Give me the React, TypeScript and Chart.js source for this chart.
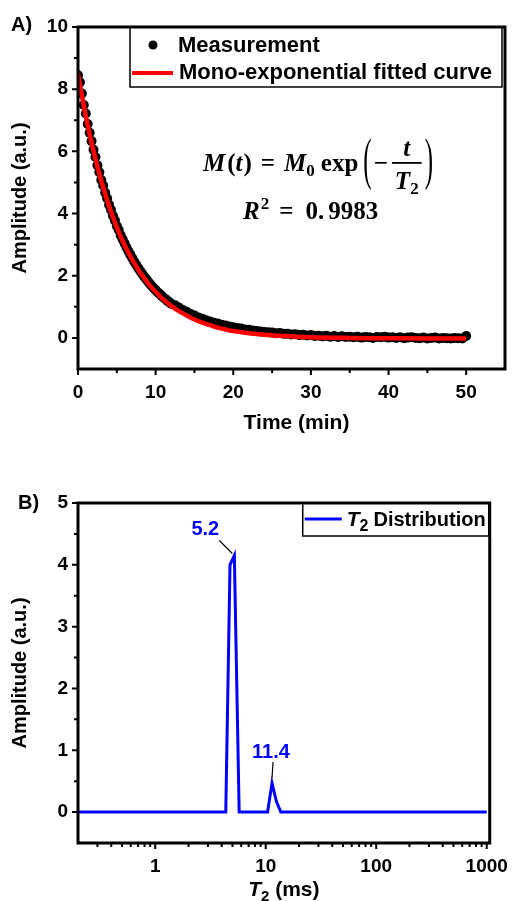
import React, { useEffect, useRef } from 'react';
import { Chart, registerables } from 'chart.js';
Chart.register(...registerables);

const SANS = '"Liberation Sans", Arial, sans-serif';
const SERIF = '"Liberation Serif", "Times New Roman", serif';

// ---------- Panel A data ----------
const measTime = [
  0, 0.25, 0.5, 0.75, 1, 1.25, 1.5, 1.75, 2, 2.25, 2.5, 2.75, 3, 3.25, 3.5, 3.75, 4, 4.25, 4.5, 4.75,
  5, 5.25, 5.5, 5.75, 6, 6.25, 6.5, 6.75, 7, 7.25, 7.5, 7.75, 8, 8.25, 8.5, 8.75, 9, 9.25, 9.5, 9.75,
  10, 10.25, 10.5, 10.75, 11, 11.25, 11.5, 11.75, 12,
  12.5, 13, 13.5, 14, 14.5, 15, 15.5, 16, 16.5, 17, 17.5, 18, 18.5, 19, 19.5,
  20, 20.5, 21, 21.5, 22, 22.5, 23, 23.5, 24, 24.5, 25, 25.5, 26, 26.5, 27, 27.5, 28, 28.5, 29, 29.5,
  30, 30.5, 31, 31.5, 32, 32.5, 33, 33.5, 34, 34.5, 35, 35.5, 36, 36.5, 37, 37.5, 38, 38.5, 39, 39.5,
  40, 40.5, 41, 41.5, 42, 42.5, 43, 43.5, 44, 44.5, 45, 45.5, 46, 46.5, 47, 47.5, 48, 48.5, 49, 49.5,
  50,
];
const measAmp = [
  8.45, 8.22, 7.86, 7.49, 7.22, 6.88, 6.6, 6.33, 6.05, 5.82, 5.55, 5.33, 5.08, 4.9, 4.67, 4.49, 4.28, 4.12, 3.93, 3.78,
  3.6, 3.47, 3.3, 3.17, 3.04, 2.91, 2.79, 2.67, 2.56, 2.45, 2.35, 2.25, 2.16, 2.07, 1.98, 1.9, 1.82, 1.74, 1.67, 1.6,
  1.54, 1.47, 1.42, 1.36, 1.3, 1.25, 1.2, 1.15, 1.1,
  1.05, 0.98, 0.9, 0.84, 0.77, 0.72, 0.66, 0.62, 0.57, 0.53, 0.49, 0.46, 0.42, 0.4, 0.37,
  0.34, 0.32, 0.3, 0.27, 0.26, 0.24, 0.22, 0.21, 0.19, 0.18, 0.17, 0.15, 0.16, 0.13, 0.13, 0.11, 0.12, 0.09, 0.1, 0.08,
  0.09, 0.06, 0.07, 0.05, 0.07, 0.04, 0.06, 0.03, 0.05, 0.03, 0.04, 0.02, 0.04, 0.01, 0.03, 0.02, 0.0, 0.03, 0.02, 0.04,
  0.01, 0.02, 0.0, 0.02, -0.01, 0.01, 0.02, 0.0, -0.01, 0.01, -0.02, 0.0, 0.01, -0.02, 0.0, -0.01, -0.02, 0.0, -0.01, -0.02,
  0.06,
];
const fitTime = [
  0, 0.5, 1, 1.5, 2, 2.5, 3, 3.5, 4, 4.5, 5, 5.5, 6, 6.5, 7, 7.5, 8, 8.5, 9, 9.5,
  10, 11, 12, 13, 14, 15, 16, 17, 18, 19, 20, 22, 24, 26, 28, 30, 35, 40, 45, 50,
];
const fitAmp = [
  8.5, 7.79, 7.15, 6.55, 6.01, 5.51, 5.05, 4.63, 4.24, 3.89, 3.56, 3.26, 2.99, 2.74, 2.51, 2.3, 2.1, 1.93, 1.76, 1.61,
  1.48, 1.23, 1.03, 0.86, 0.72, 0.59, 0.49, 0.41, 0.33, 0.27, 0.22, 0.15, 0.1, 0.07, 0.04, 0.02, 0.0, -0.01, -0.02, -0.02,
];
const xTicksA = [0, 10, 20, 30, 40, 50];
const xMinorA = [5, 15, 25, 35, 45];
const yTicksA = [0, 2, 4, 6, 8, 10];
const yMinorA = [1, 3, 5, 7, 9];
const legendA = ['Measurement', 'Mono-exponential fitted curve'];
const r2Int = '0.';
const r2Frac = '9983';

// ---------- Panel B data ----------
const t2Time = [0.2, 4.35, 4.75, 5.2, 5.75, 10.4, 11.4, 12.5, 13.7, 1000];
const t2Amp = [0, 0, 4.0, 4.15, 0, 0, 0.47, 0.17, 0, 0];
const peakX = [5.2, 11.4];
const peakY = [4.15, 0.47];
const peakText = ['5.2', '11.4'];
const xTicksB = [1, 10, 100, 1000];
const xMinorB = [
  0.3, 0.4, 0.5, 0.6, 0.7, 0.8, 0.9,
  2, 3, 4, 5, 6, 7, 8, 9,
  20, 30, 40, 50, 60, 70, 80, 90,
  200, 300, 400, 500, 600, 700, 800, 900,
];
const yTicksB = [0, 1, 2, 3, 4, 5];
const yMinorB = [0.5, 1.5, 2.5, 3.5, 4.5];

type Seg = { t: string; f: string; dy?: number; gap?: number };

function drawSegs(ctx: CanvasRenderingContext2D, x: number, y: number, segs: Seg[]) {
  let cx = x;
  for (const s of segs) {
    cx += s.gap || 0;
    if (!s.t) continue;
    ctx.font = s.f;
    ctx.fillText(s.t, cx, y + (s.dy || 0));
    cx += ctx.measureText(s.t).width;
  }
  return cx;
}

function drawAxesFrame(chart: any, xMaj: number[], xMin: number[], yMaj: number[], yMin: number[]) {
  const { ctx, chartArea: a } = chart;
  const xs = chart.scales.x;
  const ys = chart.scales.y;
  ctx.save();
  ctx.strokeStyle = '#000';
  ctx.lineWidth = 2;
  ctx.beginPath();
  for (const v of xMaj) {
    const p = xs.getPixelForValue(v);
    ctx.moveTo(p, a.bottom);
    ctx.lineTo(p, a.bottom + 6);
  }
  for (const v of xMin) {
    const p = xs.getPixelForValue(v);
    ctx.moveTo(p, a.bottom);
    ctx.lineTo(p, a.bottom + 4);
  }
  for (const v of yMaj) {
    const p = ys.getPixelForValue(v);
    ctx.moveTo(a.left, p);
    ctx.lineTo(a.left - 6, p);
  }
  for (const v of yMin) {
    const p = ys.getPixelForValue(v);
    ctx.moveTo(a.left, p);
    ctx.lineTo(a.left - 4, p);
  }
  ctx.stroke();
  ctx.lineWidth = 3;
  ctx.strokeRect(a.left, a.top, a.right - a.left, a.bottom - a.top);
  ctx.restore();
}

function drawYTitle(ctx: CanvasRenderingContext2D, text: string, x: number, y: number) {
  ctx.save();
  ctx.translate(x, y);
  ctx.rotate(-Math.PI / 2);
  ctx.font = `bold 20px ${SANS}`;
  ctx.fillStyle = '#000';
  ctx.textAlign = 'center';
  ctx.textBaseline = 'middle';
  ctx.fillText(text, 0, 0);
  ctx.restore();
}

const decorA = {
  id: 'decorA',
  afterDraw(chart: any) {
    const { ctx, chartArea: a } = chart;
    drawAxesFrame(chart, xTicksA, xMinorA, yTicksA, yMinorA);
    ctx.save();
    ctx.fillStyle = '#000';
    ctx.strokeStyle = '#000';
    // legend box
    const lx = a.left + 52;
    const lr = a.right - 3;
    ctx.lineWidth = 1.5;
    ctx.strokeRect(lx, a.top, lr - lx, 60);
    ctx.beginPath();
    ctx.arc(lx + 23, a.top + 18, 4.5, 0, Math.PI * 2);
    ctx.fill();
    ctx.strokeStyle = '#ff0000';
    ctx.lineWidth = 4;
    ctx.beginPath();
    ctx.moveTo(lx + 2, a.top + 46);
    ctx.lineTo(lx + 43, a.top + 46);
    ctx.stroke();
    ctx.font = `bold 22px ${SANS}`;
    ctx.textBaseline = 'middle';
    ctx.textAlign = 'left';
    ctx.fillText(legendA[0], lx + 48, a.top + 19);
    ctx.fillText(legendA[1], lx + 49, a.top + 46);

    // equation
    ctx.textBaseline = 'alphabetic';
    const fs = 25;
    const bi = `italic bold ${fs}px ${SERIF}`;
    const b = `bold ${fs}px ${SERIF}`;
    const sm = `bold ${Math.round(fs * 0.68)}px ${SERIF}`;
    const base = 171;
    let x = drawSegs(ctx, 203, base, [
      { t: 'M', f: bi },
      { t: '(', f: b, gap: 2 },
      { t: 't', f: bi },
      { t: ')', f: b, gap: 1 },
      { t: '=', f: b, gap: 9 },
      { t: 'M', f: bi, gap: 9 },
      { t: '0', f: sm, dy: 5 },
      { t: 'exp', f: b, gap: 6 },
    ]);
    const paren = (ch: string, px: number) => {
      ctx.save();
      ctx.font = `${fs}px ${SERIF}`;
      ctx.translate(px, 163);
      ctx.scale(1, 2.25);
      ctx.textBaseline = 'middle';
      ctx.fillText(ch, 0, 0);
      ctx.restore();
      ctx.font = `${fs}px ${SERIF}`;
      return ctx.measureText(ch).width;
    };
    x += 5;
    x += paren('(', x) + 2;
    x = drawSegs(ctx, x, base, [{ t: '\u2212', f: b }]);
    x += 4;
    ctx.font = bi;
    const wT = ctx.measureText('T').width;
    ctx.font = sm;
    const w2 = ctx.measureText('2').width;
    const fw = wT + w2 + 6;
    ctx.fillRect(x, 162, fw, 1.8);
    ctx.font = bi;
    const wt = ctx.measureText('t').width;
    ctx.fillText('t', x + (fw - wt) / 2, 156);
    drawSegs(ctx, x + 3, 189, [{ t: 'T', f: bi }, { t: '2', f: sm, dy: 5 }]);
    x += fw + 3;
    paren(')', x);

    drawSegs(ctx, 243, 219, [
      { t: 'R', f: bi },
      { t: '2', f: sm, dy: -10, gap: 1 },
      { t: '=', f: b, gap: 10 },
      { t: r2Int, f: b, gap: 12 },
      { t: r2Frac, f: b, gap: 4 },
    ]);

    // axis titles
    ctx.font = `bold 21px ${SANS}`;
    ctx.textAlign = 'center';
    ctx.textBaseline = 'middle';
    ctx.fillText('Time (min)', (a.left + a.right) / 2 + 5, 423);
    ctx.restore();
    drawYTitle(ctx, 'Amplitude (a.u.)', 20, (a.top + a.bottom) / 2);
    ctx.save();
    ctx.font = `bold 20px ${SANS}`;
    ctx.fillStyle = '#000';
    ctx.textBaseline = 'middle';
    ctx.textAlign = 'left';
    ctx.fillText('A)', 11, 25);
    ctx.restore();
  },
};

const decorB = {
  id: 'decorB',
  afterDraw(chart: any) {
    const { ctx, chartArea: a } = chart;
    const xs = chart.scales.x;
    const ys = chart.scales.y;
    drawAxesFrame(chart, xTicksB, xMinorB, yTicksB, yMinorB);
    ctx.save();
    // legend
    const lx = a.right - 187;
    ctx.strokeStyle = '#000';
    ctx.lineWidth = 1.5;
    ctx.strokeRect(lx, a.top, a.right - 1 - lx, 33);
    ctx.strokeStyle = '#0000ff';
    ctx.lineWidth = 3;
    ctx.beginPath();
    ctx.moveTo(lx + 2, a.top + 16);
    ctx.lineTo(lx + 39, a.top + 16);
    ctx.stroke();
    ctx.fillStyle = '#000';
    ctx.textBaseline = 'alphabetic';
    drawSegs(ctx, lx + 44, a.top + 23, [
      { t: 'T', f: `italic bold 21px ${SANS}` },
      { t: '2', f: `bold 16px ${SANS}`, dy: 5 },
      { t: 'Distribution', f: `bold 20px ${SANS}`, gap: 5 },
    ]);

    // peak annotations
    const offs = [
      { tx: -29, ty: -26, x1: -15, y1: -15, x2: -2, y2: -2 },
      { tx: -1, ty: -31, x1: 1, y1: -21, x2: 0, y2: -5 },
    ];
    for (let i = 0; i < peakX.length; i++) {
      const px = xs.getPixelForValue(peakX[i]);
      const py = ys.getPixelForValue(peakY[i]);
      const o = offs[i];
      ctx.strokeStyle = '#000';
      ctx.lineWidth = 1.2;
      ctx.beginPath();
      ctx.moveTo(px + o.x1, py + o.y1);
      ctx.lineTo(px + o.x2, py + o.y2);
      ctx.stroke();
      ctx.fillStyle = '#0000ff';
      ctx.font = `bold 20px ${SANS}`;
      ctx.textAlign = 'center';
      ctx.textBaseline = 'middle';
      ctx.fillText(peakText[i], px + o.tx, py + o.ty);
    }

    // x title: T2 (ms)
    ctx.fillStyle = '#000';
    ctx.textAlign = 'left';
    ctx.textBaseline = 'alphabetic';
    ctx.font = `italic bold 21px ${SANS}`;
    const w1 = ctx.measureText('T').width;
    ctx.font = `bold 15px ${SANS}`;
    const w2 = ctx.measureText('2').width;
    ctx.font = `bold 21px ${SANS}`;
    const w3 = ctx.measureText(' (ms)').width;
    const total = w1 + w2 + w3;
    drawSegs(ctx, (a.left + a.right) / 2 - total / 2, 446, [
      { t: 'T', f: `italic bold 21px ${SANS}` },
      { t: '2', f: `bold 15px ${SANS}`, dy: 5 },
      { t: ' (ms)', f: `bold 21px ${SANS}` },
    ]);
    ctx.restore();
    drawYTitle(ctx, 'Amplitude (a.u.)', 20, (a.top + a.bottom) / 2);
    ctx.save();
    ctx.font = `bold 20px ${SANS}`;
    ctx.fillStyle = '#000';
    ctx.textBaseline = 'middle';
    ctx.textAlign = 'left';
    ctx.fillText('B)', 18, a.top);
    ctx.restore();
  },
};

const tickFont = { family: SANS, size: 19, weight: 'bold' as const };

export default function App() {
  const refA = useRef<HTMLCanvasElement>(null);
  const refB = useRef<HTMLCanvasElement>(null);

  useEffect(() => {
    const chartA = new Chart(refA.current!, {
      type: 'scatter',
      data: {
        datasets: [
          {
            label: legendA[0],
            data: measTime.map((t, i) => ({ x: t, y: measAmp[i] })),
            pointRadius: 5,
            pointBackgroundColor: '#000',
            pointBorderWidth: 0,
            showLine: false,
            order: 2,
          },
          {
            label: legendA[1],
            data: fitTime.map((t, i) => ({ x: t, y: fitAmp[i] })),
            showLine: true,
            borderColor: '#ff0000',
            borderWidth: 4.5,
            pointRadius: 0,
            cubicInterpolationMode: 'monotone',
            order: 1,
          } as any,
        ],
      },
      options: {
        animation: false,
        responsive: false,
        layout: { padding: { top: 27, right: 15, left: 0, bottom: 0 } },
        plugins: { legend: { display: false }, tooltip: { enabled: false } },
        scales: {
          x: {
            type: 'linear',
            min: 0,
            max: 55,
            grid: { display: false, drawTicks: false },
            border: { display: false },
            afterBuildTicks: (s: any) => { s.ticks = xTicksA.map((v) => ({ value: v })); },
            afterFit: (s: any) => { s.height = 81; },
            ticks: { font: tickFont, color: '#000', padding: 12, maxRotation: 0, autoSkip: false },
          },
          y: {
            type: 'linear',
            min: -1,
            max: 10,
            grid: { display: false, drawTicks: false },
            border: { display: false },
            afterBuildTicks: (s: any) => { s.ticks = yTicksA.map((v) => ({ value: v })); },
            afterFit: (s: any) => { s.width = 78; },
            ticks: { font: tickFont, color: '#000', padding: 10, autoSkip: false },
          },
        },
      },
      plugins: [decorA],
    });

    const chartB = new Chart(refB.current!, {
      type: 'scatter',
      data: {
        datasets: [
          {
            label: 'T2 Distribution',
            data: t2Time.map((t, i) => ({ x: t, y: t2Amp[i] })),
            showLine: true,
            borderColor: '#0000ff',
            borderWidth: 3,
            pointRadius: 0,
          },
        ],
      },
      options: {
        animation: false,
        responsive: false,
        layout: { padding: { top: 53, right: 21, left: 0, bottom: 0 } },
        plugins: { legend: { display: false }, tooltip: { enabled: false } },
        scales: {
          x: {
            type: 'logarithmic',
            min: 0.2,
            max: 1065,
            grid: { display: false, drawTicks: false },
            border: { display: false },
            afterBuildTicks: (s: any) => { s.ticks = xTicksB.map((v) => ({ value: v })); },
            afterFit: (s: any) => { s.height = 58; },
            ticks: { font: tickFont, color: '#000', padding: 12, maxRotation: 0, autoSkip: false, callback: (v: any) => String(v) },
          },
          y: {
            type: 'linear',
            min: -0.5,
            max: 5,
            grid: { display: false, drawTicks: false },
            border: { display: false },
            afterBuildTicks: (s: any) => { s.ticks = yTicksB.map((v) => ({ value: v })); },
            afterFit: (s: any) => { s.width = 78; },
            ticks: { font: tickFont, color: '#000', padding: 10, autoSkip: false },
          },
        },
      },
      plugins: [decorB],
    });

    return () => {
      chartA.destroy();
      chartB.destroy();
    };
  }, []);

  return (
    <div style={{ position: 'absolute', left: 0, top: 0, width: 520, height: 901, background: '#fff' }}>
      <canvas ref={refA} width={520} height={450} style={{ position: 'absolute', left: 0, top: 0 }} />
      <canvas ref={refB} width={520} height={451} style={{ position: 'absolute', left: 0, top: 450 }} />
    </div>
  );
}
